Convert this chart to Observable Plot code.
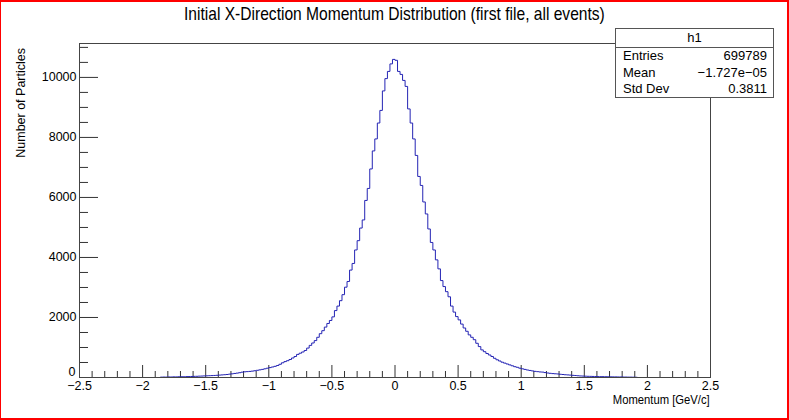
<!DOCTYPE html>
<html><head><meta charset="utf-8">
<script src="https://cdn.jsdelivr.net/npm/d3@7"></script>
<script src="https://cdn.jsdelivr.net/npm/@observablehq/plot@0.6"></script>
<style>
body{margin:0;background:#fff;}
#wrap{position:relative;width:789px;height:420px;overflow:hidden;background:#fff;font-family:"Liberation Sans",Arial,sans-serif;color:#000;}
#wrap svg{position:absolute;left:0;top:0;}
#title{position:absolute;left:0;width:789px;top:3px;text-align:center;font-size:19px;white-space:nowrap;transform:scaleX(0.82);transform-origin:394px 0;}
#stats{position:absolute;left:615px;top:28px;width:157px;height:68px;border:1px solid #555;background:#fff;font-size:13px;}
#stats .hd{height:18px;line-height:18px;text-align:center;border-bottom:1px solid #555;}
#stats .row{position:relative;height:16.5px;line-height:16.5px;padding:0 6px 0 7px;}
#stats .row span.v{position:absolute;right:6px;}
#ytitle{position:absolute;left:22px;top:48px;transform-origin:0 0;transform:translate(-8px,0) rotate(-90deg) translate(-100%,0);font-size:12.5px;white-space:nowrap;}
#xtitle{position:absolute;right:79px;top:393px;font-size:12.5px;white-space:nowrap;transform:scaleX(0.9);transform-origin:100% 0;}
#border{position:absolute;left:0;top:0;right:0;bottom:0;border:2px solid #f00;border-left-width:1px;box-sizing:border-box;pointer-events:none;}
</style></head><body><div id="wrap">
<div id="title"></div>
<div id="ytitle"></div>
<div id="xtitle"></div>
<div id="stats"></div>
<div id="border"></div>
</div>
<script>
const titleText = "Initial X-Direction Momentum Distribution (first file, all events)";
const xLabel = "Momentum [GeV/c]";
const yLabel = "Number of Particles";
const statsName = "h1";
const statsLabels = ["Entries", "Mean", "Std Dev"];
const statsValues = ["699789", "\u22121.727e\u221205", "0.3811"];

const xDomain = [-2.5, 2.5];
const yDomain = [0, 11130];
const xMajorTicks = [-2.5, -2, -1.5, -1, -0.5, 0, 0.5, 1, 1.5, 2, 2.5];
const yMajorTicks = [0, 2000, 4000, 6000, 8000, 10000];
const xMinorStep = 0.1;
const yMinorStep = 500;

const binLow = -1.86;
const binWidth = 0.02;
const counts = [
 12,15,14,18,17,21,20,24,26,25,30,31,34,38,40,45,48,53,56,60,
 64,68,73,80,86,93,100,112,122,135,146,160,178,190,196,203,212,225,240,255,
 270,290,310,330,350,372,400,440,490,530,560,600,650,700,770,810,850,900,980,1070,
 1150,1230,1340,1460,1560,1680,1800,1900,2020,2230,2380,2560,2760,3010,3200,3580,3800,4250,4560,4980,
 5250,5900,6300,6950,7550,7950,8480,8900,9550,9960,10200,10450,10600,
 10570,10200,10100,9900,9700,8950,8480,7950,7400,6700,6400,5850,5450,4950,4500,4250,3920,3620,3230,3030,
 2860,2690,2380,2180,2030,1920,1780,1650,1540,1420,1340,1260,1140,1030,920,860,800,750,700,640,
 590,550,510,480,450,420,390,360,340,310,290,270,250,235,220,205,195,185,180,165,
 150,140,130,124,118,108,100,92,86,80,72,66,58,52,48,44,40,38,35,32,
 30,28,28,26,24,22,21,20,18,18,16,15,13,12,10,8
];

// histogram outline points
const pts = [{x: binLow, y: 0}];
counts.forEach((c, i) => pts.push({x: binLow + i * binWidth, y: c}));
const lastEdge = binLow + counts.length * binWidth;
pts.push({x: lastEdge, y: counts[counts.length - 1]});
pts.push({x: lastEdge, y: 0});

const W = 789, H = 420, mL = 79, mR = 79, mT = 43, mB = 43;
const unitsPerPxX = (xDomain[1] - xDomain[0]) / (W - mL - mR);
const unitsPerPxY = (yDomain[1] - yDomain[0]) / (H - mT - mB);

const xMinor = d3.range(Math.round((xDomain[1]-xDomain[0])/xMinorStep)+1).map(i => +(xDomain[0] + i*xMinorStep).toFixed(3)).filter(v => !xMajorTicks.some(m => Math.abs(m-v) < 1e-6));
const yMinor = d3.range(0, yDomain[1], yMinorStep).filter(v => !yMajorTicks.includes(v));

const fmtX = d => d === 0 ? "0" : (d < 0 ? "\u2212" : "") + Math.abs(d);
const chart = Plot.plot({
  width: W, height: H,
  marginLeft: mL, marginRight: mR, marginTop: mT, marginBottom: mB,
  style: {fontFamily: '"Liberation Sans",Arial,sans-serif', fontSize: "12.5px", color: "#000", background: "transparent"},
  x: {domain: xDomain},
  y: {domain: yDomain},
  marks: [
    Plot.ruleY(yMajorTicks, {x1: xDomain[0], x2: xDomain[0] + 19*unitsPerPxX, stroke: "#333", strokeWidth: 1}),
    Plot.ruleY(yMinor, {x1: xDomain[0], x2: xDomain[0] + 9*unitsPerPxX, stroke: "#333", strokeWidth: 1}),
    Plot.ruleX(xMajorTicks, {y1: 0, y2: 12*unitsPerPxY, stroke: "#333", strokeWidth: 1}),
    Plot.ruleX(xMinor, {y1: 0, y2: 6*unitsPerPxY, stroke: "#333", strokeWidth: 1}),
    Plot.axisY({ticks: yMajorTicks.filter(d => d !== 0), tickSize: 0, tickPadding: 3, label: null, tickFormat: d => String(d)}),
    Plot.axisY({ticks: [0], tickSize: 0, tickPadding: 4, dy: -6, label: null, tickFormat: d => String(d)}),
    Plot.axisX({ticks: xMajorTicks, tickSize: 0, tickPadding: 3, dy: 1, label: null, tickFormat: fmtX}),
    Plot.line(pts, {x: "x", y: "y", curve: "step-after", stroke: "#2424b4", strokeWidth: 1}),
    Plot.frame({stroke: "#444", strokeWidth: 1})
  ]
});
const wrap = document.getElementById("wrap");
wrap.insertBefore(chart, wrap.firstChild);

document.getElementById("title").textContent = titleText;
document.getElementById("xtitle").textContent = xLabel;
document.getElementById("ytitle").textContent = yLabel;
const st = document.getElementById("stats");
let html = `<div class="hd">${statsName}</div>`;
statsLabels.forEach((l, i) => { html += `<div class="row"><span>${l}</span><span class="v">${statsValues[i]}</span></div>`; });
st.innerHTML = html;
</script>
</body></html>
